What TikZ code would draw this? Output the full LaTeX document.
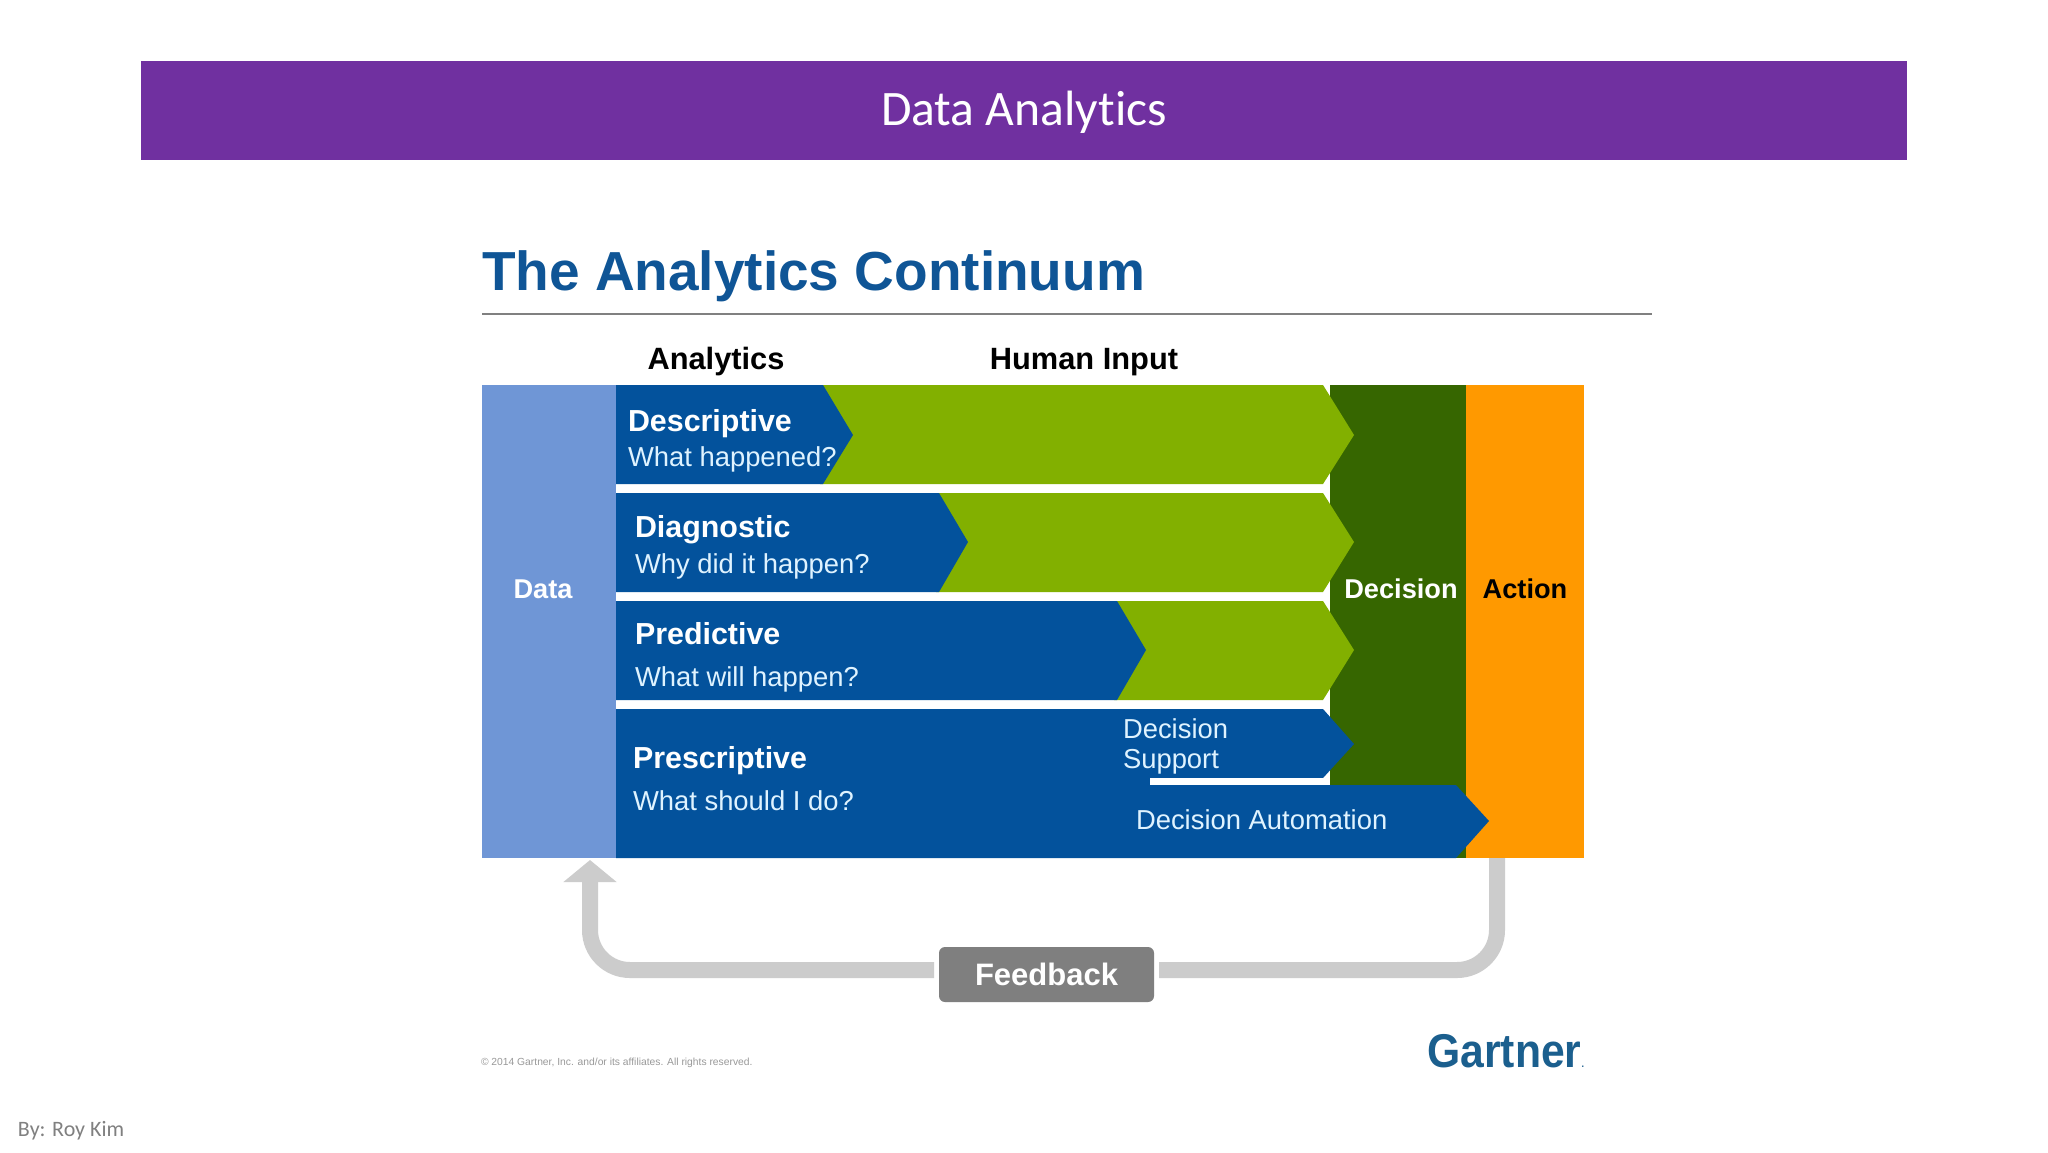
\documentclass[tikz,border=0pt]{standalone}
\usepackage{fontspec}
\setmainfont{Liberation Sans}
\newfontfamily\calib[Ligatures=NoCommon]{Carlito}
\usetikzlibrary{arrows.meta}
\definecolor{banner}{HTML}{7030A0}
\definecolor{gblue}{HTML}{03529C}
\definecolor{ggreen}{HTML}{82B000}
\definecolor{gdark}{HTML}{366600}
\definecolor{gorange}{HTML}{FF9900}
\definecolor{gdata}{HTML}{6F96D6}
\definecolor{gtitle}{HTML}{0F5596}
\definecolor{garrow}{HTML}{CCCCCC}
\definecolor{gbox}{HTML}{7F7F7F}
\definecolor{glogo}{HTML}{1B5F8E}
\definecolor{gpale}{HTML}{DFF3FF}
\tikzset{
  x=0.5pt,y=-0.5pt,
  lab/.style={inner sep=0pt,outer sep=0pt,anchor=west,text height=0.72em,text depth=0.2em},
  boldlab/.style={lab,text=white,font=\fontsize{15.2}{17}\selectfont\bfseries},
  quest/.style={lab,text=gpale,font=\fontsize{13.7}{15}\selectfont},
  dsup/.style={lab,text=gpale,font=\fontsize{13.7}{15}\selectfont},
  collab/.style={inner sep=0pt,outer sep=0pt,anchor=center,text height=0.72em,text depth=0.2em,font=\fontsize{13.6}{15}\selectfont\bfseries},
  head/.style={collab,text=black,font=\fontsize{15.4}{17}\selectfont\bfseries},
  feedline/.style={draw=garrow,line width=8pt,rounded corners=20pt},
}
\begin{document}
\begin{tikzpicture}
\useasboundingbox (0,0) rectangle (2048,1152);
\fill[white] (0,0) rectangle (2048,1152);
% banner
\fill[banner] (141,61) rectangle (1907,160);
\node[inner sep=0pt,text=white,font=\calib\fontsize{24.8}{28}\selectfont] (bannertext) at (1024,112) {Data Analytics};
% title
\node[inner sep=0pt,outer sep=0pt,anchor=base west,text=gtitle,font=\fontsize{27.5}{32}\bfseries\selectfont] (title) at (482,290) {The Analytics Continuum};
\draw[color=gray,line width=0.8pt] (482,314) -- (1652,314);
\node[head] (hanalytics) at (716,364) {Analytics};
\node[head] (hhuman) at (1084,364) {Human Input};
% columns
\fill[gdata] (482,385) rectangle (616,858);
\fill[gdark] (1330,385) rectangle (1466,858);
\fill[gorange] (1466,385) rectangle (1584,858);
% green chevrons
\fill[ggreen] (820,385) -- (1323,385) -- (1354,435) -- (1323,484) -- (820,484) -- cycle;
\fill[ggreen] (936,493) -- (1323,493) -- (1354,542) -- (1323,592) -- (936,592) -- cycle;
\fill[ggreen] (1114,601) -- (1323,601) -- (1354,650) -- (1323,700) -- (1114,700) -- cycle;
% blue chevrons
\fill[gblue] (616,385) -- (823,385) -- (853,435) -- (823,484) -- (616,484) -- cycle;
\fill[gblue] (616,493) -- (939,493) -- (968,542) -- (939,592) -- (616,592) -- cycle;
\fill[gblue] (616,601) -- (1117,601) -- (1146,650) -- (1117,700) -- (616,700) -- cycle;
\fill[gblue] (616,709) -- (1323,709) -- (1354,744) -- (1323,778) -- (1150,778) -- (1150,785) -- (1456,785) -- (1489,821) -- (1456,858) -- (616,858) -- cycle;
\fill[white] (1150,778) rectangle (1330,785);
% labels
\node[collab,text=white] (data) at (543,593) {Data};
\node[collab,text=white] (decision) at (1401,593) {Decision};
\node[collab,text=black] (action) at (1525,593) {Action};
\node[boldlab] (descr) at (628,426) {Descriptive};
\node[quest] (descrq) at (628,461) {What happened?};
\node[boldlab] (diag) at (635,532) {Diagnostic};
\node[quest] (diagq) at (635,568) {Why did it happen?};
\node[boldlab] (pred) at (635,639) {Predictive};
\node[quest] (predq) at (635,681) {What will happen?};
\node[boldlab] (presc) at (633,763) {Prescriptive};
\node[quest] (prescq) at (633,805) {What should I do?};
\node[dsup] (dsa) at (1123,733) {Decision};
\node[dsup] (dsb) at (1123,763) {Support};
\node[dsup] (dauto) at (1136,824) {Decision Automation};
% feedback
\node[fill=gbox,rounded corners=3pt,minimum width=107.5pt,minimum height=27.5pt,inner sep=0pt,outer sep=2.5pt,text=white,font=\fontsize{15.5}{17}\selectfont\bfseries] (feedback) at (1046.5,974.5) {Feedback};
\coordinate (fbout) at (1497,858);
\coordinate (fbin) at (590,860);
\draw[feedline] (fbout) -- (1497,970) -- (feedback.east |- 0,970);
\draw[feedline,-{Triangle[width=26pt,length=11pt]}] (feedback.west |- 0,970) -- (590,970) -- (fbin);
% footer
\node[lab,text=gray!80,font=\fontsize{5.15}{6}\selectfont] (copyr) at (481,1060) {© 2014 Gartner, Inc. and/or its affiliates. All rights reserved.};
\node[inner sep=0pt,outer sep=0pt,anchor=base east,text=glogo,font=\fontsize{23.7}{26}\selectfont\bfseries] (gartner) at (1584,1067) {\scalebox{0.9}[1]{Gartner{\fontsize{5}{6}\selectfont.}}};
\node[lab,text=gray,font=\calib\fontsize{11}{13}\selectfont] (author) at (18,1131) {By: Roy Kim};
\end{tikzpicture}
\end{document}
